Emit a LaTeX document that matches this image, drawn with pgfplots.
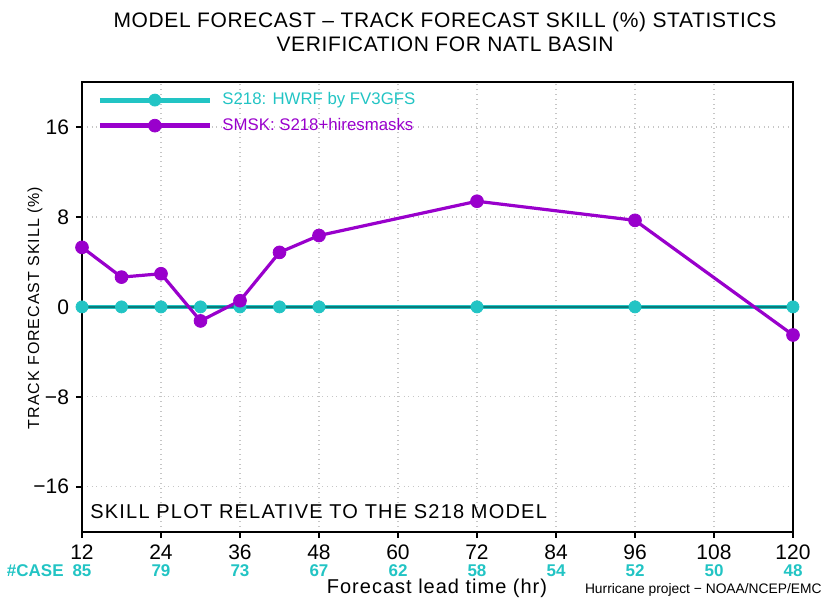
\documentclass[border=0pt]{standalone}
\usepackage{fontspec}
\setmainfont{Liberation Sans}
\usepackage{pgfplots}
\pgfplotsset{compat=1.18}
\definecolor{cyanc}{HTML}{22C4C4}
\definecolor{purp}{HTML}{9900CC}
\definecolor{zeroln}{HTML}{0B7A7A}

\begin{document}
\begin{tikzpicture}
\begin{axis}[
  at={(0,0)}, anchor=south west,
  scale only axis, width=355.5pt, height=224.8pt,
  xmin=12, xmax=120, ymin=-20, ymax=20,
  xtick={12,24,36,48,60,72,84,96,108,120},
  ytick={-16,-8,0,8,16},
  yticklabels={−16,−8,0,8,16},
  tick pos=left, tick align=outside, major tick length=3pt,
  axis line style={line width=0.9pt},
  tick style={line width=0.9pt, black},
  grid=major, major grid style={gray!45, dotted, line width=0.6pt},
  ticklabel style={font=\fontsize{10.5}{12}\selectfont},
  /pgf/number format/assume math mode=true,
  extra x ticks={12,24,36,48,60,72,84,96,108,120},
  extra x tick labels={85,79,73,67,62,58,54,52,50,48},
  extra x tick style={grid=none, major tick length=0pt,
    xticklabel style={yshift=-13pt, text=cyanc, font=\fontsize{8.5}{10}\selectfont\bfseries}},
  clip=false,
  legend style={draw=none, fill=none, at={(0,1)}, anchor=north west,
    xshift=7.5pt, yshift=-3pt, inner sep=0pt,
    font=\fontsize{8.4}{9.5}\selectfont,
    row sep=1.2pt, nodes={inner xsep=5pt}},
  legend cell align=left,
  legend image code/.code={\draw[mark repeat=2, mark phase=2, #1, line width=2.5pt]
    plot coordinates {(0pt,0pt) (27.5pt,0pt) (55pt,0pt)};},
]
\addplot[cyanc, line width=2pt, mark=*, mark size=3pt,
  mark options={solid, fill=cyanc, draw=cyanc, line width=0.4pt}] coordinates {
  (12,0) (18,0) (24,0) (30,0) (36,0) (42,0) (48,0) (72,0) (96,0) (120,0)
};
\addlegendentry{\textcolor{cyanc}{S218: HWRF by FV3GFS}}
\addplot[zeroln, line width=0.7pt, forget plot] coordinates {(12,0) (120,0)};
\addplot[purp, line width=1.6pt, mark=*, mark size=3.2pt,
  mark options={solid, fill=purp, draw=purp, line width=0.4pt}] coordinates {
  (12,5.3) (18,2.65) (24,2.95) (30,-1.25) (36,0.55) (42,4.85) (48,6.35)
  (72,9.4) (96,7.7) (120,-2.5)
};
\addlegendentry{\textcolor{purp}{SMSK: S218+hiresmasks}}
\end{axis}
\node[font=\fontsize{10.5}{12}\selectfont\addfontfeature{LetterSpace=3}, align=center] at (181.5pt,249.85pt)
  {MODEL FORECAST – TRACK FORECAST SKILL (\%) STATISTICS\\VERIFICATION FOR NATL BASIN};
\node[rotate=90, font=\fontsize{8}{9}\selectfont\addfontfeature{LetterSpace=6}] at (-23.5pt,111.85pt)
  {TRACK FORECAST SKILL (\%)};
\node[anchor=west, inner sep=0pt, font=\fontsize{10}{11}\selectfont\addfontfeature{LetterSpace=6}] at (4pt,10.1pt)
  {SKILL PLOT RELATIVE TO THE S218 MODEL};
\node[anchor=east, inner sep=0pt, text=cyanc, font=\fontsize{8.5}{10}\selectfont\bfseries] at (-9pt,-19.7pt)
  {\#CASE};
\node[font=\fontsize{10}{12}\selectfont\addfontfeature{LetterSpace=5}] at (177.5pt,-28.2pt)
  {Forecast lead time (hr)};
\node[anchor=east, inner sep=0pt, font=\fontsize{6.9}{8}\selectfont] at (370pt,-29.2pt)
  {Hurricane project − NOAA/NCEP/EMC};
\pgfresetboundingbox
\path (-41pt,-33.65pt) rectangle (371pt,265.85pt);
\end{tikzpicture}
\end{document}
